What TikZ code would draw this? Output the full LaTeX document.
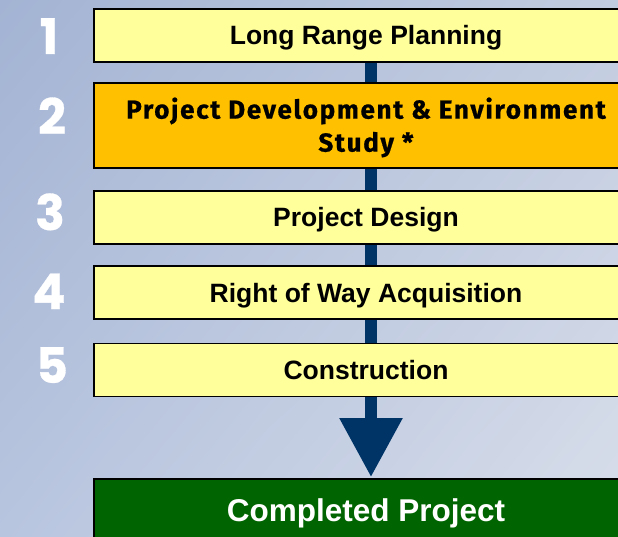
\documentclass[tikz,border=0pt]{standalone}
\usepackage{fontspec}
\setmainfont{Liberation Sans}
\newfontfamily\numfont{Poppins}[BoldFeatures={FakeBold=0.6}]
\newfontfamily\roundfont{Fira Sans}[LetterSpace=6.5,BoldFeatures={FakeBold=0.8}]
\usetikzlibrary{arrows.meta,shadings}
\definecolor{bgA}{HTML}{A3B3D3}
\definecolor{bgB}{HTML}{C2CCE0}
\definecolor{bgC}{HTML}{B8C5DF}
\definecolor{bgD}{HTML}{D8DEEA}
\definecolor{paleyellow}{HTML}{FFFF9C}
\definecolor{amber}{HTML}{FFC000}
\definecolor{navy}{HTML}{003366}
\definecolor{darkgreen}{HTML}{006400}

\tikzset{
  stage/.style={draw=black, line width=1.8pt, fill=paleyellow, inner sep=0pt,
    minimum width=544pt, minimum height=53pt, text height=19pt, text depth=0pt,
    font=\fontsize{26.5}{30}\selectfont\bfseries},
  keystage/.style={draw=black, line width=1.8pt, fill=amber, inner sep=0pt,
    minimum width=544pt, minimum height=85pt, align=center,
    font=\roundfont\fontsize{26}{33}\selectfont\bfseries},
  done/.style={stage, fill=darkgreen, text=white, minimum height=62pt,
    text height=22.5pt, font=\fontsize{31.5}{36}\selectfont\bfseries},
  num/.style={text=white, inner sep=0pt, text height=34pt, text depth=0pt,
    font=\numfont\fontsize{49}{49}\selectfont\bfseries},
  flow/.style={draw=navy, line width=12pt}
}

\begin{document}
\begin{tikzpicture}[x=1pt, y=-1pt]
    \clip (0,0) rectangle (618,537);
    \shade[upper left=bgA, upper right=bgB, lower left=bgC, lower right=bgD]
        (0,0) rectangle (618,537);

    \node[num] (n1) at (49,37) {1};
    \node[num] (n2) at (52,117) {2};
    \node[num] (n3) at (50,213) {3};
    \node[num] (n4) at (49,292) {4};
    \node[num] (n5) at (52,366) {5};

    \node[stage] (b1) at (366,35.5) {Long Range Planning};
    \node[keystage] (b2) at (366,125.5) {\rule{0pt}{25pt}Project Development \& Environment\\Study *};
    \node[stage] (b3) at (366,217.5) {Project Design};
    \node[stage] (b4) at (366,292.5) {Right of Way Acquisition};
    \node[stage] (b5) at (366,370) {Construction};
    \node[done] (end) at (366,510) {Completed Project};

    \draw[flow] ([xshift=5pt]b1.south) -- ([xshift=5pt]b2.north);
    \draw[flow] ([xshift=5pt]b2.south) -- ([xshift=5pt]b3.north);
    \draw[flow] ([xshift=5pt]b3.south) -- ([xshift=5pt]b4.north);
    \draw[flow] ([xshift=5pt]b4.south) -- ([xshift=5pt]b5.north);
    \draw[flow, -{Triangle[width=60pt, length=59pt]}]
        ([xshift=5pt]b5.south) -- ([xshift=5pt,yshift=1pt]end.north);
\end{tikzpicture}
\end{document}
